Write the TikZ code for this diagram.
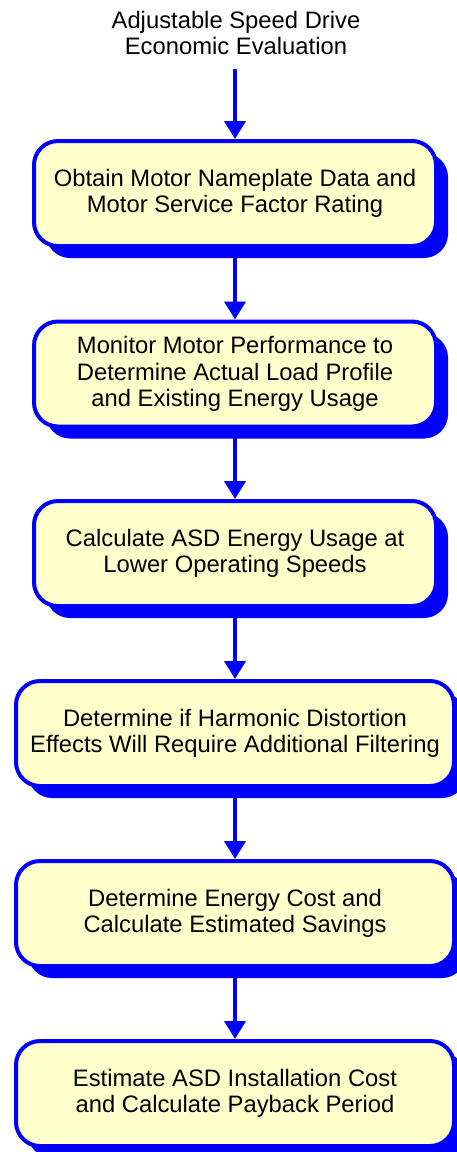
\documentclass[tikz,border=0pt]{standalone}
\usepackage{fontspec}
\setmainfont{Liberation Sans}
\usetikzlibrary{arrows.meta,shadows}

\definecolor{boxyellow}{RGB}{255,255,204}

\tikzset{
	stepbox/.style={draw=blue, line width=2pt, fill=boxyellow, rounded corners=12pt,
		align=center, inner sep=0pt, minimum width=201pt, minimum height=52.5pt,
		font=\fontsize{11.9}{13.3}\selectfont,
		drop shadow={shadow xshift=6pt, shadow yshift=-6pt, fill=blue, opacity=1}},
	widebox/.style={stepbox, minimum width=219pt},
	flow/.style={blue, line width=2pt, -{Triangle[width=10.5pt,length=9pt]}}
}

\begin{document}
\begin{tikzpicture}[x=0.5pt, y=-0.5pt]
	\useasboundingbox (0,0) rectangle (456,1152);

	% Draw the title
	\node (title) at (236,33) [align=center, inner sep=0pt, font=\fontsize{11.9}{13.3}\selectfont] {Adjustable Speed Drive\\Economic Evaluation};
	\coordinate (start) at (235,69);

	% Draw the steps
	\node (obtain)    at (235,193.5)  [stepbox] {Obtain Motor Nameplate Data and\\Motor Service Factor Rating};
	\node (monitor)   at (235,374)    [stepbox] {Monitor Motor Performance to\\Determine Actual Load Profile\\and Existing Energy Usage};
	\node (calculate) at (235,553.5)  [stepbox] {Calculate ASD Energy Usage at\\Lower Operating Speeds};
	\node (harmonic)  at (235,733.5)  [widebox] {Determine if Harmonic Distortion\\Effects Will Require Additional Filtering};
	\node (savings)   at (235,913.5)  [widebox] {Determine Energy Cost and\\Calculate Estimated Savings};
	\node (payback)   at (235,1093.5) [widebox] {Estimate ASD Installation Cost\\and Calculate Payback Period};

	% Draw the arrows
	\draw[flow] (start) -- (obtain.north);
	\draw[flow] (obtain.south) -- (monitor.north);
	\draw[flow] (monitor.south) -- (calculate.north);
	\draw[flow] (calculate.south) -- (harmonic.north);
	\draw[flow] (harmonic.south) -- (savings.north);
	\draw[flow] (savings.south) -- (payback.north);
\end{tikzpicture}
\end{document}
